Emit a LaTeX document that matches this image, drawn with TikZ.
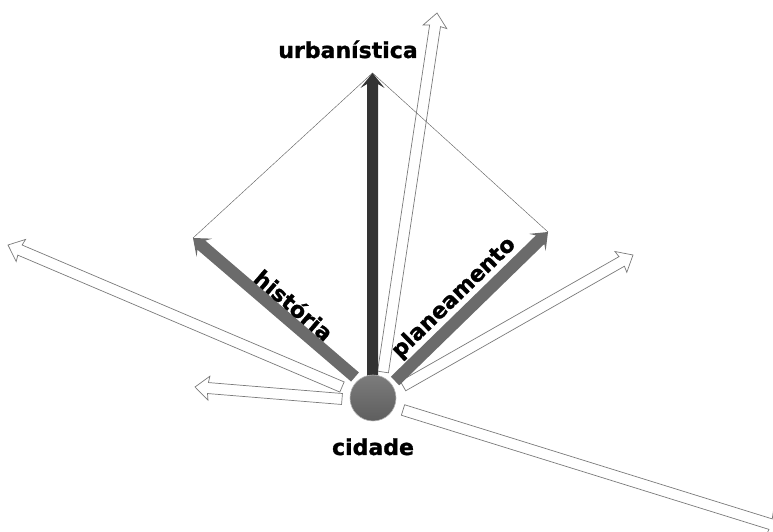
\documentclass[tikz,border=0pt]{standalone}
\usepackage{fontspec}
\setmainfont{DejaVu Sans}
\usetikzlibrary{calc}
\definecolor{darkar}{HTML}{333333}
\definecolor{grayar}{HTML}{6B6B6B}
\definecolor{outl}{HTML}{7A7A7A}
\definecolor{balltop}{HTML}{7C7C7C}
\definecolor{ballbot}{HTML}{5E5E5E}
\tikzset{
  hollow/.style={draw=outl, fill=white, line width=0.7pt, line join=miter},
  grayfill/.style={fill=grayar, draw=none},
  darkfill/.style={fill=darkar, draw=none},
  guide/.style={draw=black!60, line width=0.45pt},
  lbl/.style={font=\bfseries\fontsize{22}{25}\selectfont\addfontfeature{FakeBold=1.2}, inner sep=0pt},
}
% #1 style, #2 start, #3 tip, #4 shaft half width, #5 head half width,
% #6 distance tip->outer head points, #7 distance tip->shaft join
\newcommand{\blkarrow}[7]{%
  \coordinate (baO) at ($(#3)!#6!(#2)$);
  \coordinate (baJ) at ($(#3)!#7!(#2)$);
  \draw[#1] ($(#2)!#4!90:(#3)$) -- ($(baJ)!#4!90:(#3)$) -- ($(baO)!#5!90:(#3)$)
    -- (#3) -- ($(baO)!#5!-90:(#3)$) -- ($(baJ)!#4!-90:(#3)$)
    -- ($(#2)!#4!-90:(#3)$) -- cycle;
}
\begin{document}
\begin{tikzpicture}[x=1pt,y=1pt]
\useasboundingbox (0,0) rectangle (773,532);
\clip (0,0) rectangle (773,532);
% named points
\coordinate (dS) at (372.5,156); \coordinate (dT) at (372.5,459);
\coordinate (hS) at (355,155);   \coordinate (hT) at (193,294);
\coordinate (pS) at (395,151);   \coordinate (pT) at (548,300);
\coordinate (w1S) at (383,160);  \coordinate (w1T) at (437,519);
\coordinate (w2S) at (342,145);  \coordinate (w2T) at (8,287);
\coordinate (w3S) at (342,133);  \coordinate (w3T) at (195,145);
\coordinate (w4S) at (403,146);  \coordinate (w4T) at (633,277);
\coordinate (w5S) at (403,122);  \coordinate (w5T) at (783,4);
% hollow arrows
\blkarrow{hollow}{w1S}{w1T}{5.5pt}{12pt}{14pt}{13pt}
\blkarrow{hollow}{w2S}{w2T}{5.5pt}{12pt}{14pt}{13pt}
\blkarrow{hollow}{w3S}{w3T}{5.5pt}{12pt}{14pt}{13pt}
\blkarrow{hollow}{w4S}{w4T}{5.5pt}{12pt}{14pt}{13pt}
\blkarrow{hollow}{w5S}{w5T}{5.5pt}{12pt}{14pt}{13pt}
% guide lines
\draw[guide] (dT) -- (hT);
\draw[guide] (dT) -- (pT);
% filled arrows
\blkarrow{grayfill}{hS}{hT}{6pt}{12pt}{15pt}{11pt}
\blkarrow{grayfill}{pS}{pT}{6pt}{12pt}{15pt}{11pt}
\blkarrow{darkfill}{dS}{dT}{5.5pt}{12pt}{15pt}{11pt}
% ball
\node[circle, minimum size=46pt, inner sep=0pt, top color=balltop, bottom color=ballbot, draw=black!30, line width=0.6pt] (c) at (373,134) {};
% labels
\node[lbl, anchor=base] (u) at (348,474) {urbanística};
\node[lbl, anchor=base] (cid) at (373,77) {cidade};
\node[lbl, rotate=-40.6] (hl) at (294,227) {história};
\node[lbl, rotate=44.2] (pl) at (454,234) {planeamento};
\end{tikzpicture}
\end{document}
